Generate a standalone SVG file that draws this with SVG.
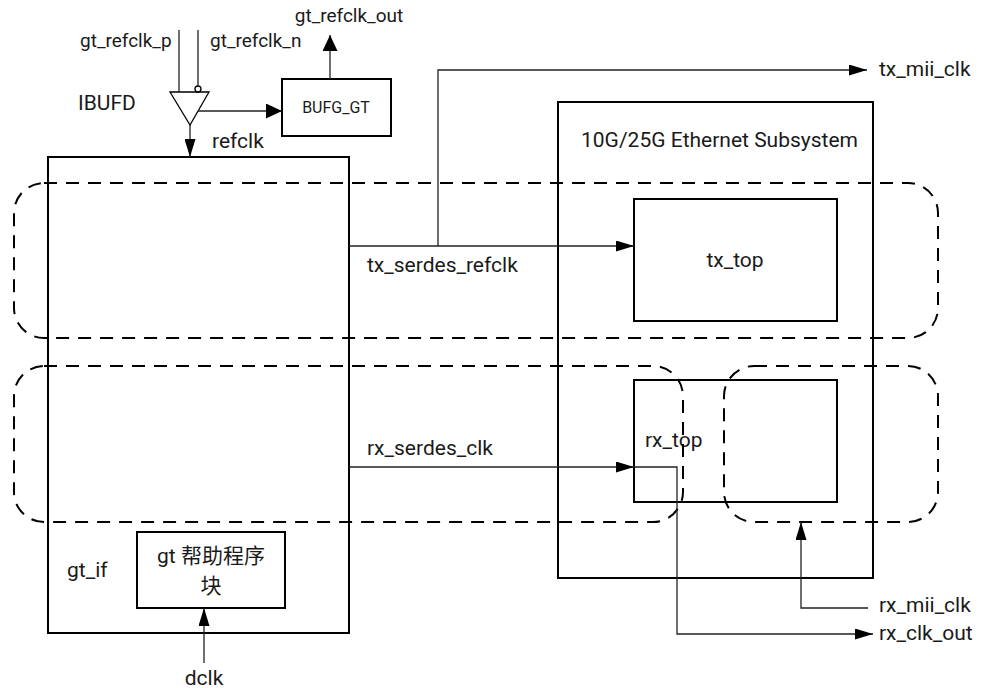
<svg xmlns="http://www.w3.org/2000/svg" width="1004" height="688" viewBox="0 0 1004 688">
<defs>
<marker id="ah" viewBox="0 0 18 11" refX="18" refY="5.5" markerWidth="18" markerHeight="11" markerUnits="userSpaceOnUse" orient="auto">
<path d="M0,0 L18,5.5 L0,11 z" fill="#000"/>
</marker>
<marker id="ahb" viewBox="0 0 16 15" refX="16" refY="7.5" markerWidth="16" markerHeight="15" markerUnits="userSpaceOnUse" orient="auto">
<path d="M0,0 L16,7.5 L0,15 z" fill="#000"/>
</marker>
</defs>
<style>
text{font-family:Roboto,"Noto Sans CJK SC",sans-serif;fill:#1a1a1a}
.box{fill:none;stroke:#000;stroke-width:2}
.dash{fill:none;stroke:#000;stroke-width:2;stroke-dasharray:13 9}
.wire{fill:none;stroke:#222;stroke-width:1.3}
.t21{font-size:21px}
.t19{font-size:19px}
.t16{font-size:16px}
</style>
<rect width="1004" height="688" fill="#fff"/>

<g id="gt_if">
<rect class="box" x="48" y="157" width="301" height="476"/>
<text class="t21" x="67" y="577">gt_if</text>
</g>
<g id="gt_helper">
<rect class="box" x="137" y="532" width="148" height="76"/>
<text class="t21" x="211" y="563" text-anchor="middle">gt 帮助程序</text>
<text class="t21" x="211" y="593" text-anchor="middle">块</text>
</g>
<g id="eth">
<rect class="box" x="558" y="102" width="315" height="476"/>
<text class="t21" x="581" y="147">10G/25G Ethernet Subsystem</text>
</g>
<g id="tx_top">
<rect class="box" x="634" y="199" width="203" height="122"/>
<text class="t21" x="735" y="267" text-anchor="middle">tx_top</text>
</g>
<g id="rx_top">
<rect class="box" x="634" y="380" width="203" height="122"/>
<text class="t21" x="645" y="447">rx_top</text>
</g>
<g id="bufg_gt">
<rect class="box" x="282" y="79" width="109" height="57"/>
<text class="t16" x="336" y="113" text-anchor="middle">BUFG_GT</text>
</g>
<g id="ibufd">
<path d="M170,92 L209,92 L190,125 Z" fill="#fff" stroke="#000" stroke-width="1.3"/>
<circle cx="198" cy="89" r="3" fill="#fff" stroke="#000" stroke-width="1.3"/>
<text class="t21" x="78" y="110">IBUFD</text>
</g>
<g id="tx_region">
<rect class="dash" x="14" y="183" width="924" height="155" rx="30" ry="30"/>
</g>
<g id="rx_region_left">
<rect class="dash" x="14" y="366" width="669" height="156" rx="30" ry="30"/>
</g>
<g id="rx_region_right">
<rect class="dash" x="724" y="366" width="214" height="156" rx="30" ry="30"/>
</g>

<g id="connectors">
<line class="wire" x1="179" y1="30" x2="179" y2="92"/>
<line class="wire" x1="198" y1="30" x2="198" y2="86"/>
<line class="wire" x1="198" y1="111" x2="282" y2="111" marker-end="url(#ahb)"/>
<line class="wire" x1="190" y1="125" x2="190" y2="157" stroke-width="2" marker-end="url(#ah)"/>
<line class="wire" x1="330" y1="79" x2="330" y2="35" stroke-width="2.5" marker-end="url(#ahb)"/>
<line class="wire" x1="349" y1="246" x2="634" y2="246" marker-end="url(#ah)"/>
<polyline class="wire" points="438,246 438,70 867,70" marker-end="url(#ah)"/>
<line class="wire" x1="349" y1="467" x2="634" y2="467" marker-end="url(#ah)"/>
<polyline class="wire" points="634,467 677,467 677,634 873,634" marker-end="url(#ah)"/>
<polyline class="wire" points="868,608 801,608 801,522" marker-end="url(#ah)"/>
<line class="wire" x1="204" y1="663" x2="204" y2="608" marker-end="url(#ah)"/>
</g>

<g id="labels">
<text class="t19" x="80" y="47">gt_refclk_p</text>
<text class="t19" x="210" y="47">gt_refclk_n</text>
<text class="t19" x="349" y="22" text-anchor="middle">gt_refclk_out</text>
<text class="t21" x="212" y="148">refclk</text>
<text class="t21" x="367" y="272">tx_serdes_refclk</text>
<text class="t21" x="367" y="455">rx_serdes_clk</text>
<text class="t21" x="879" y="76">tx_mii_clk</text>
<text class="t21" x="879" y="612">rx_mii_clk</text>
<text class="t21" x="879" y="640">rx_clk_out</text>
<text class="t21" x="204" y="685" text-anchor="middle">dclk</text>
</g>
</svg>
